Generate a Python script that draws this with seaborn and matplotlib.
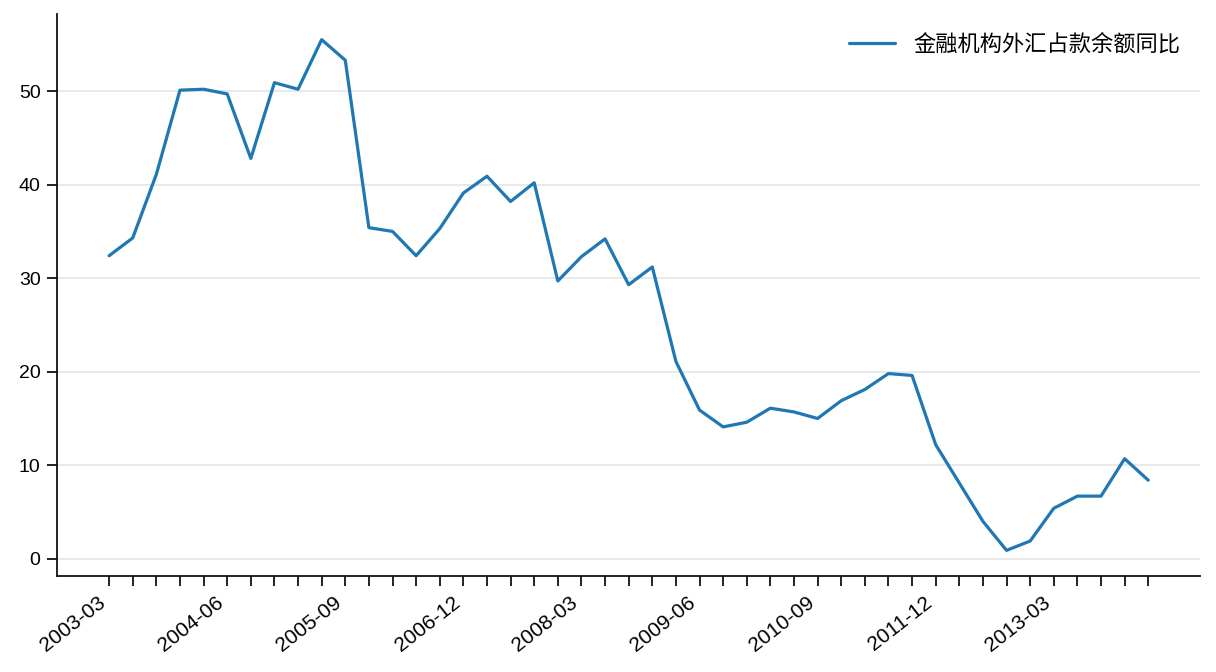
import numpy as np
import pandas as pd
import matplotlib.pyplot as plt
import seaborn as sns

# 季度数据 2003-03 ~ 2014-03
quarters = pd.date_range('2003-03-01', periods=45, freq='QS-MAR').strftime('%Y-%m').tolist()
yoy = [32.4, 34.3, 41.1, 50.1, 50.2, 49.7, 42.8, 50.9, 50.2, 55.5,
       53.3, 35.4, 35.0, 32.4, 35.3, 39.1, 40.9, 38.2, 40.2, 29.7,
       32.3, 34.2, 29.3, 31.2, 21.1, 15.9, 14.1, 14.6, 16.1, 15.7,
       15.0, 16.9, 18.1, 19.8, 19.6, 12.2, 8.1, 4.0, 0.9, 1.9,
       5.4, 6.7, 6.7, 10.7, 8.4]
serie_nome = '金融机构外汇占款余额同比'

df = pd.DataFrame({'pos': np.arange(len(quarters)), 'quarter': quarters, 'valor': yoy})

sns.set_theme(style='ticks')
plt.rcParams['font.family'] = ['Liberation Sans', 'Noto Sans CJK SC']
plt.rcParams['text.color'] = 'black'
plt.rcParams['xtick.labelcolor'] = 'black'
plt.rcParams['ytick.labelcolor'] = 'black'

fig, ax = plt.subplots(figsize=(12.16, 6.72), dpi=100)
fig.subplots_adjust(left=0.047, right=0.987, top=0.979, bottom=0.143)

sns.lineplot(data=df, x='pos', y='valor', ax=ax, color='#1f77b4', linewidth=2.3, label=serie_nome)

ax.set_xticks(df['pos'])
labels = [q if i % 5 == 0 else '' for i, q in enumerate(quarters)]
ax.set_xticklabels(labels, rotation=38, ha='right')
ax.set_yticks([0, 10, 20, 30, 40, 50])
ax.set_xlabel('')
ax.set_ylabel('')
ax.tick_params(length=7, width=1.3, color='#111111')
ax.tick_params(axis='x', labelsize=15, pad=5)
ax.tick_params(axis='y', labelsize=14, pad=5)
ax.grid(axis='y', color='#e5e5e5', linewidth=1.2)
sns.despine(ax=ax)
for s in ['left', 'bottom']:
    ax.spines[s].set_linewidth(1.3)
    ax.spines[s].set_color('#111111')

ax.legend(loc='upper right', frameon=False, fontsize=16, handlelength=2.1,
          borderaxespad=0.5)

plt.savefig('out.png', dpi=100)
